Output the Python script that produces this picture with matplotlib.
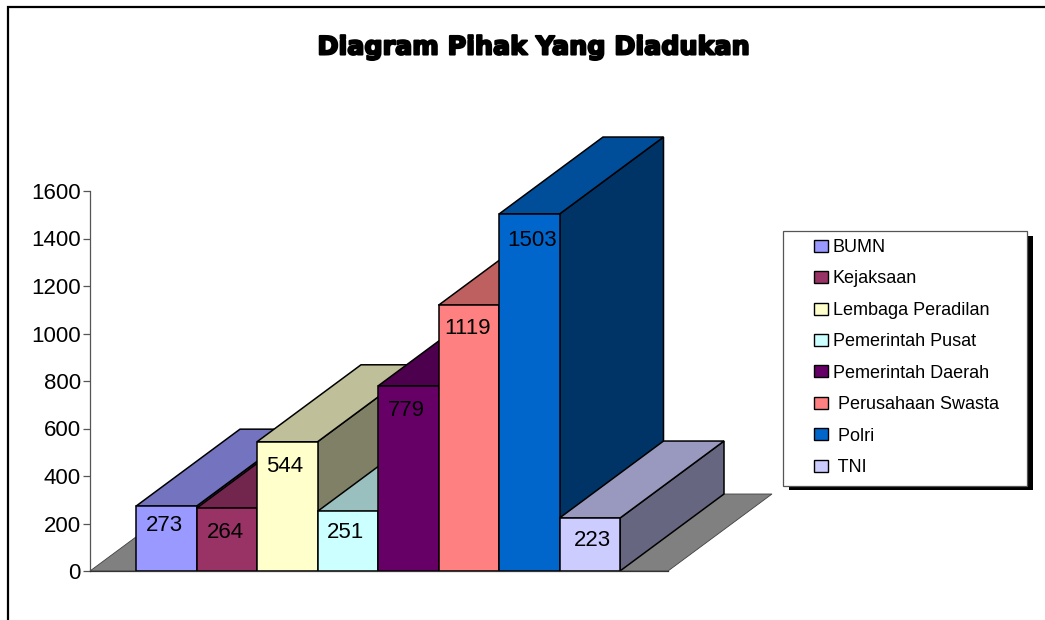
import matplotlib
matplotlib.use("Agg")
import matplotlib.pyplot as plt
import matplotlib.patheffects as pe
from matplotlib.patches import Polygon, Patch, Rectangle
from matplotlib.lines import Line2D
from matplotlib.transforms import Affine2D
from matplotlib.colors import to_rgb

categories = ["BUMN", "Kejaksaan", "Lembaga Peradilan", "Pemerintah Pusat",
              "Pemerintah Daerah", " Perusahaan Swasta", " Polri", " TNI"]
values = [273, 264, 544, 251, 779, 1119, 1503, 223]
yticks = [0, 200, 400, 600, 800, 1000, 1200, 1400, 1600]
colors = ["#9999FF", "#993366", "#FFFFCC", "#CCFFFF",
          "#660066", "#FF8080", "#0066CC", "#CCCCFF"]

W, H = 1045, 620
plt.rcParams["font.family"] = ["Liberation Sans", "DejaVu Sans"]
fig = plt.figure(figsize=(W / 100, H / 100), dpi=100, facecolor="white")
px = Affine2D().scale(1 / W, -1 / H).translate(0, 1) + fig.transFigure

# Plot box in pixels
L, R, B, T = 90, 668, 571, 191
bar_px = 60.5
first_px = 136
ax = fig.add_axes([L / W, 1 - B / H, (R - L) / W, (B - T) / H])
ax.set_xlim((L - first_px) / bar_px, (R - first_px) / bar_px)
ax.set_ylim(0, 1600)
ax.patch.set_visible(False)

depth_x = 104 / bar_px
depth_y = 77 * 1600 / (B - T)


def shade(c, f):
    return tuple(v * f for v in to_rgb(c))


x0, x1 = ax.get_xlim()
ax.add_patch(Polygon([(x0, 0), (x1, 0), (x1 + depth_x, depth_y), (x0 + depth_x, depth_y)],
                     closed=True, fc="#808080", ec="#404040", lw=0.6, zorder=1, clip_on=False))

edge = dict(ec="black", lw=1.1, joinstyle="miter", clip_on=False, zorder=2)
for i, (v, c) in enumerate(zip(values, colors)):
    ax.add_patch(Polygon([(i + 1, 0), (i + 1 + depth_x, depth_y),
                          (i + 1 + depth_x, v + depth_y), (i + 1, v)],
                         closed=True, fc=shade(c, 0.5), **edge))
    ax.add_patch(Polygon([(i, v), (i + depth_x, v + depth_y),
                          (i + 1 + depth_x, v + depth_y), (i + 1, v)],
                         closed=True, fc=shade(c, 0.75), **edge))
    ax.add_patch(Rectangle((i, 0), 1, v, fc=c, **edge))

label_drop = [19, 24, 25, 21, 25, 23, 26, 22]
label_shift = [-2, -1, -3, -2, -2, -1, 3, 3]
for i, v in enumerate(values):
    ax.annotate(str(v), (i + 0.5, v), xytext=(label_shift[i] * 0.72, -label_drop[i] * 0.72),
                textcoords="offset points", ha="center", va="center",
                fontsize=16, color="black", zorder=5)

for s in ("top", "right"):
    ax.spines[s].set_visible(False)
ax.spines["left"].set_color("#555555")
ax.spines["left"].set_linewidth(0.9)
ax.spines["bottom"].set_color("#333333")
ax.spines["bottom"].set_linewidth(0.9)
ax.spines["bottom"].set_zorder(3)
ax.set_xticks([])
ax.set_yticks(yticks)
ax.tick_params(axis="y", length=5, width=0.9, color="#555555", labelsize=16, pad=1.5)

# Outer chart frame
fig.add_artist(Line2D([8, 8, W], [H, 7, 7], transform=px, color="black", lw=1.6,
                      solid_joinstyle="miter"))

# Title
fig.text(533 / W, 1 - 47.5 / H, "Diagram Pihak Yang Diadukan", ha="center", va="center",
         family="DejaVu Sans", fontweight="bold", fontsize=18.3, color="black",
         path_effects=[pe.withStroke(linewidth=1.5, foreground="black")])

# Legend
fig.add_artist(Rectangle((789, 236), 244, 254, transform=px, fc="black", ec="none", zorder=3))
fig.add_artist(Rectangle((783, 231), 244, 255, transform=px, fc="white", ec="#555555", lw=0.9, zorder=3))
handles = [Patch(fc=c, ec="black", lw=1.0) for c in colors]
leg = fig.legend(handles, categories, loc="upper left",
                 bbox_to_anchor=(814 / W, 1 - 239 / H), bbox_transform=fig.transFigure,
                 frameon=False, borderpad=0, borderaxespad=0,
                 prop={"family": "Liberation Sans", "size": 13},
                 handlelength=0.75, handleheight=0.65, handletextpad=0.3, labelspacing=0.80)
leg.set_zorder(4)

fig.savefig("out.png", dpi=100)
